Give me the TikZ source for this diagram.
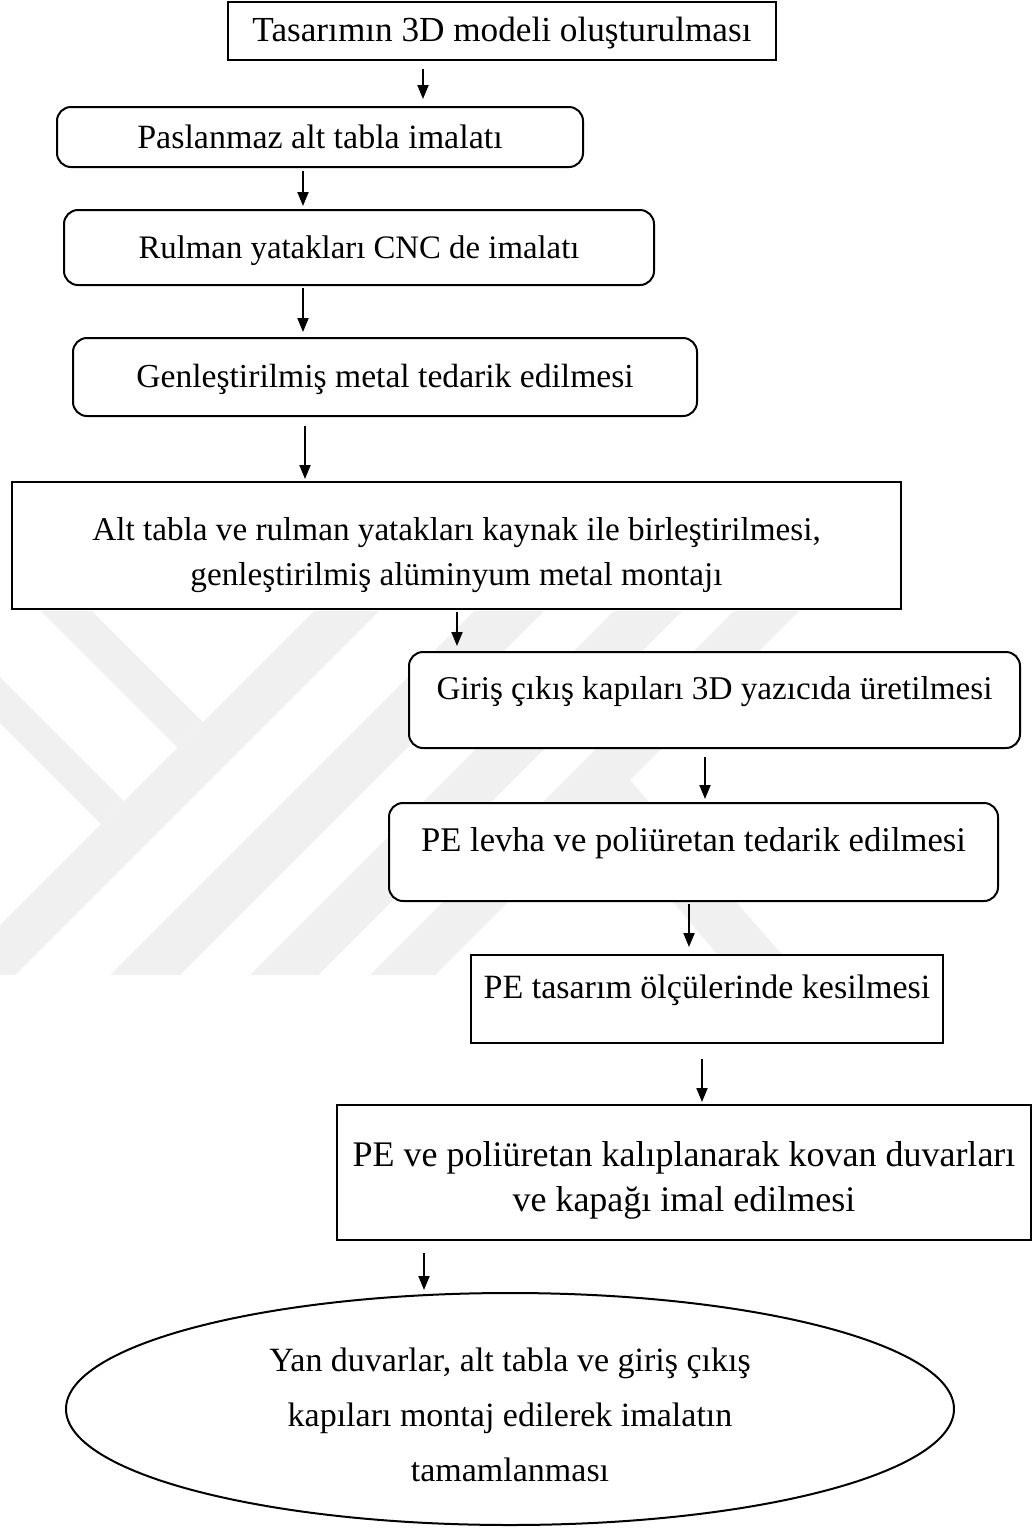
\documentclass[tikz,border=0pt]{standalone}
\usepackage{fontspec}
\setmainfont{Liberation Serif}
\usetikzlibrary{arrows.meta,shapes.geometric}
\newcommand{\topgap}[1]{\rule{0pt}{#1}}

\begin{document}
\begin{tikzpicture}[x=0.5pt, y=-0.5pt,
    fs/.style={font=\fontsize{#1}{22.5pt}\selectfont},
    box/.style={draw, line width=1pt, fill=white, inner sep=2pt, fs=17pt},
    sqbox/.style={box},
    rbox/.style={box, rounded corners=7pt},
    raised/.style={text height=11pt, text depth=12pt},
    lowbase/.style={text height=14.5pt, text depth=4pt},
    ell/.style={box, ellipse, inner sep=0pt,
        font=\fontsize{17pt}{27.5pt}\selectfont},
    arr/.style={line width=1pt, -{Triangle[length=7pt,width=5.5pt]}},
    wm/.style={fill=black!6}]
    \useasboundingbox (0,0) rectangle (1034,1528);
    % faint watermark behind the boxes
    \begin{scope}
        \clip (0,611) rectangle (1034,975);
        \fill[wm] (-50,975) -- (15,975) -- (379,611) -- (314,611) -- cycle;
        \fill[wm] (110,975) -- (180,975) -- (544,611) -- (474,611) -- cycle;
        \fill[wm] (250,975) -- (318,975) -- (682,611) -- (614,611) -- cycle;
        \fill[wm] (370,975) -- (435,975) -- (799,611) -- (734,611) -- cycle;
        \fill[wm] (41,611) -- (92,611) -- (203,722) -- (177.5,747.5) -- cycle;
        \fill[wm] (0,677) -- (124,801) -- (101,824) -- (0,723) -- cycle;
        \fill[wm] (628,778) -- (800,975) -- (735,975) -- (596,812) -- cycle;
    \end{scope}
    \node[sqbox, fs=17.6pt, lowbase, minimum width=274pt, minimum height=29pt] (model) at (502,31)
        {Tasarımın 3D modeli oluşturulması};
    \node[rbox, fs=17pt, minimum width=263pt, minimum height=30pt] (tabla) at (320,137)
        {Paslanmaz alt tabla imalatı};
    \node[rbox, fs=16.4pt, lowbase, minimum width=295pt, minimum height=37.5pt] (yatak) at (359,247.5)
        {Rulman yatakları CNC de imalatı};
    \node[rbox, fs=16.8pt, lowbase, minimum width=312pt, minimum height=39pt] (metal) at (385,377)
        {Genleştirilmiş metal tedarik edilmesi};
    \node[sqbox, fs=16.6pt, align=center, minimum width=444.5pt, minimum height=63.5pt] (kaynak) at (456.5,545.5)
        {\topgap{21pt}Alt tabla ve rulman yatakları kaynak ile birleştirilmesi,\\
         genleştirilmiş alüminyum metal montajı};
    \node[rbox, fs=16.6pt, raised, minimum width=305.5pt, minimum height=48pt] (kapi) at (714.5,700)
        {Giriş çıkış kapıları 3D yazıcıda üretilmesi};
    \node[rbox, fs=17.3pt, raised, minimum width=304.5pt, minimum height=49pt] (levha) at (693.5,852)
        {PE levha ve poliüretan tedarik edilmesi};
    \node[sqbox, fs=17pt, raised, minimum width=236pt, minimum height=44pt] (kesim) at (707,999)
        {PE tasarım ölçülerinde kesilmesi};
    \node[sqbox, fs=18pt, align=center, minimum width=347pt, minimum height=67.5pt] (kalip) at (684,1172.5)
        {\topgap{20.3pt}PE ve poliüretan kalıplanarak kovan duvarları\\
         ve kapağı imal edilmesi};
    \node[ell, align=center, minimum width=444pt, minimum height=116pt] (montaj) at (510,1409)
        {\topgap{17.5pt}Yan duvarlar, alt tabla ve giriş çıkış\\
         kapıları montaj edilerek imalatın\\
         tamamlanması};
    \foreach \from/\to/\x/\s/\e in {
        model/tabla/423/4pt/3.5pt, tabla/yatak/303/1.5pt/1.5pt,
        yatak/metal/303/1pt/2.5pt, metal/kaynak/305/4.5pt/1pt,
        kaynak/kapi/457/1pt/2.5pt, kapi/levha/705/4pt/1.5pt,
        levha/kesim/689/1pt/3.5pt, kesim/kalip/702/7.5pt/1pt,
        kalip/montaj/424/6pt/1pt
    }{
        \coordinate (ax) at (\x,0);
        \draw[arr, shorten <=\s, shorten >=\e] (\from.south -| ax) -- (\to.north -| ax);
    }
\end{tikzpicture}
\end{document}
